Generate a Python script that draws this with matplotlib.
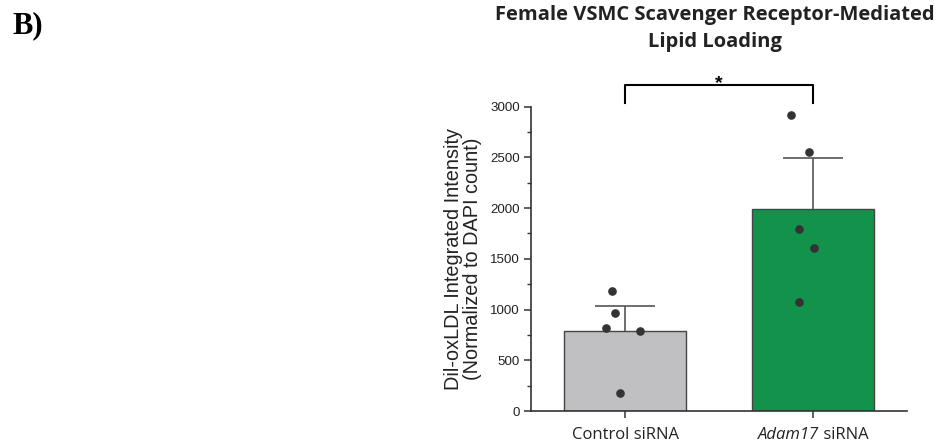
import matplotlib
matplotlib.use("Agg")
import matplotlib.pyplot as plt
import numpy as np

# ---------------------------------- data ----------------------------------
groups = ["Control siRNA", "Adam17 siRNA"]
means = [785, 1995]
sem = [250, 495]
control_points = [1183, 963, 815, 786, 174]
adam17_points = [2919, 2557, 1792, 1604, 1078]
# horizontal jitter of the scatter dots (layout only)
control_jitter = [-0.07, -0.053, -0.10, 0.08, -0.028]
adam17_jitter = [-0.116, -0.019, -0.073, 0.003, -0.077]

bar_colors = ["#c0bfc1", "#12924a"]
dark = "#333333"

fig = plt.figure(figsize=(9.44, 4.47), dpi=100)
ax = fig.add_axes([531 / 944, 36 / 447, 376 / 944, 304.3 / 447])

x = np.arange(len(groups))
ax.bar(x, means, width=0.647, color=bar_colors, edgecolor="#444444",
       linewidth=1.0, zorder=2)
eb = ax.errorbar(x, means, yerr=[np.zeros(len(sem)), sem], fmt="none",
                 ecolor="#555555", elinewidth=1.2, capsize=21.5,
                 capthick=1.2, zorder=3)
# only the upper cap is wanted (one-sided SEM bar)
eb[1][0].set_visible(False)

for xi, pts, jit in [(0, control_points, control_jitter),
                     (1, adam17_points, adam17_jitter)]:
    ax.plot(xi + np.array(jit), pts, "o", color=dark, markersize=5.2,
            zorder=4, clip_on=False)

ax.set_xlim(-0.5, 1.5)
ax.set_ylim(0, 3000)
ax.set_yticks(np.arange(0, 3001, 500))
ax.set_yticks(np.arange(250, 3000, 500), minor=True)
ax.set_xticks(x)
ax.set_xticklabels([])

for s in ["top", "right"]:
    ax.spines[s].set_visible(False)
for s in ["left", "bottom"]:
    ax.spines[s].set_color(dark)
    ax.spines[s].set_linewidth(1.2)

ax.tick_params(axis="y", which="major", length=5, width=1.1, color=dark,
               labelsize=9.6, labelcolor="#222222", pad=3)
ax.tick_params(axis="y", which="minor", length=3, width=1.0, color=dark)
ax.tick_params(axis="x", length=5, width=1.1, color=dark)
for lab in ax.get_yticklabels():
    lab.set_fontfamily("Liberation Sans")

# category labels (gene name in italics)
tf = dict(fontsize=12, family="Open Sans", color="#222222",
          transform=ax.get_xaxis_transform(), va="center")
ax.text(0, -0.08, groups[0], ha="center", **tf)
t_it = ax.text(1, -0.08, "Adam17", ha="left", style="italic", **tf)
t_rm = ax.text(1, -0.08, " siRNA", ha="left", **tf)
fig.canvas.draw()
r = fig.canvas.get_renderer()
w_it = t_it.get_window_extent(r).width
w_rm = t_rm.get_window_extent(r).width
x1_px = ax.transData.transform((1, 0))[0]
inv = ax.transData.inverted()
start = x1_px - (w_it + w_rm) / 2
t_it.set_x(inv.transform((start, 0))[0])
t_rm.set_x(inv.transform((start + w_it, 0))[0])

ax.set_ylabel("Dil-oxLDL Integrated Intensity\n(Normalized to DAPI count)",
              fontsize=14.3, family="Liberation Sans", color="#222222",
              labelpad=6, linespacing=1.0)

# significance bracket
yb, yl = 3215, 3035
ax.plot([0, 0, 1, 1], [yl, yb, yb, yl], color="black", lw=1.5,
        clip_on=False, zorder=5)
ax.text(0.5, yb - 70, "*", ha="center", va="bottom", fontsize=14,
        fontweight="bold", color="black", family="Liberation Sans")

fig.text(715 / 944, 1 - 15 / 447, "Female VSMC Scavenger Receptor-Mediated",
         ha="center", va="center", fontsize=14.5, fontweight="bold",
         family="Open Sans", color="#222222")
fig.text(715 / 944, 1 - 42 / 447, "Lipid Loading",
         ha="center", va="center", fontsize=14.5, fontweight="bold",
         family="Open Sans", color="#222222")
fig.text(12 / 944, 1 - 26 / 447, "B)", ha="left", va="center",
         fontsize=22, fontweight="bold", family="Liberation Serif")

fig.savefig("out.png", dpi=100)
